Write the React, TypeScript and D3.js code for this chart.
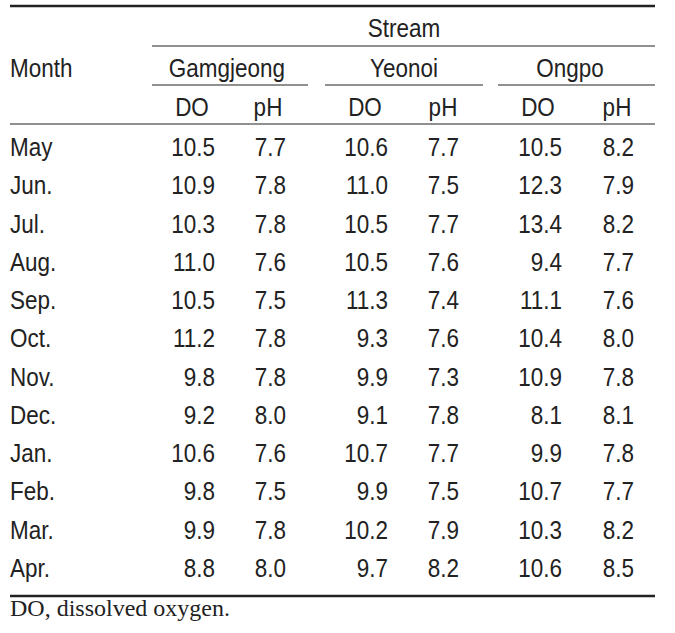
import React from "react";
import * as d3 from "d3";

const months = ["May", "Jun.", "Jul.", "Aug.", "Sep.", "Oct.", "Nov.", "Dec.", "Jan.", "Feb.", "Mar.", "Apr."];
const streams = ["Gamgjeong", "Yeonoi", "Ongpo"];
const measures = ["DO", "pH"];
const gamgjeongDO = ["10.5", "10.9", "10.3", "11.0", "10.5", "11.2", "9.8", "9.2", "10.6", "9.8", "9.9", "8.8"];
const gamgjeongPH = ["7.7", "7.8", "7.8", "7.6", "7.5", "7.8", "7.8", "8.0", "7.6", "7.5", "7.8", "8.0"];
const yeonoiDO = ["10.6", "11.0", "10.5", "10.5", "11.3", "9.3", "9.9", "9.1", "10.7", "9.9", "10.2", "9.7"];
const yeonoiPH = ["7.7", "7.5", "7.7", "7.6", "7.4", "7.6", "7.3", "7.8", "7.7", "7.5", "7.9", "8.2"];
const ongpoDO = ["10.5", "12.3", "13.4", "9.4", "11.1", "10.4", "10.9", "8.1", "9.9", "10.7", "10.3", "10.6"];
const ongpoPH = ["8.2", "7.9", "8.2", "7.7", "7.6", "8.0", "7.8", "8.1", "7.8", "7.7", "8.2", "8.5"];
const footnote = "DO, dissolved oxygen.";

const W = 675;
const H = 633;
const FONT = "'Liberation Sans', Arial, Helvetica, sans-serif";
const FS = 22.5;
const INK = "#222";
const STRETCH = 1.12;

function T({ x, y, anchor, children }: { x: number; y: number; anchor?: string; children: React.ReactNode }) {
  return (
    <text transform={`translate(${x},${y}) scale(1,${STRETCH})`} textAnchor={anchor || "start"}>
      {children}
    </text>
  );
}

export default function App() {
  const series = [
    [gamgjeongDO, gamgjeongPH],
    [yeonoiDO, yeonoiPH],
    [ongpoDO, ongpoPH],
  ];
  const y = d3.scalePoint<string>().domain(months).range([156, 577]);
  const groupX0 = [152, 325, 498];
  const groupX1 = [308, 483, 655];
  const groupCenter = [227, 404, 570];
  const doRight = [215, 388, 562];
  const phRight = [286, 459, 634];
  const doHeadC = [192, 365, 538];
  const phHeadC = [268, 443, 617];

  return (
    <svg
      width={W}
      height={H}
      style={{ position: "absolute", left: 0, top: 0, background: "#fff" }}
      fontFamily={FONT}
      fontSize={FS}
      fill={INK}
    >
      <rect x={0} y={0} width={W} height={H} fill="#fff" />
      <line x1={10} x2={655} y1={6} y2={6} stroke={INK} strokeWidth={2.4} />
      <line x1={152} x2={655} y1={46} y2={46} stroke={INK} strokeWidth={1.2} />
      {streams.map((s, i) => (
        <line key={s} x1={groupX0[i]} x2={groupX1[i]} y1={85} y2={85} stroke={INK} strokeWidth={1.2} />
      ))}
      <line x1={10} x2={655} y1={124} y2={124} stroke={INK} strokeWidth={1.2} />
      <line x1={10} x2={655} y1={596} y2={596} stroke={INK} strokeWidth={2.6} />

      <T x={404} y={37} anchor="middle">Stream</T>
      <T x={10} y={77}>Month</T>
      {streams.map((s, i) => (
        <T key={s} x={groupCenter[i]} y={77} anchor="middle">{s}</T>
      ))}
      {streams.map((s, i) => (
        <g key={s + "m"}>
          <T x={doHeadC[i]} y={116} anchor="middle">{measures[0]}</T>
          <T x={phHeadC[i]} y={116} anchor="middle">{measures[1]}</T>
        </g>
      ))}

      {months.map((m, r) => (
        <g key={m}>
          <T x={10} y={y(m) as number}>{m}</T>
          {series.map((pair, i) => (
            <g key={i}>
              <T x={doRight[i]} y={y(m) as number} anchor="end">{pair[0][r]}</T>
              <T x={phRight[i]} y={y(m) as number} anchor="end">{pair[1][r]}</T>
            </g>
          ))}
        </g>
      ))}

      <text x={10} y={616} fontFamily="'Liberation Serif', 'Times New Roman', serif" fontSize={24}>
        {footnote}
      </text>
    </svg>
  );
}
